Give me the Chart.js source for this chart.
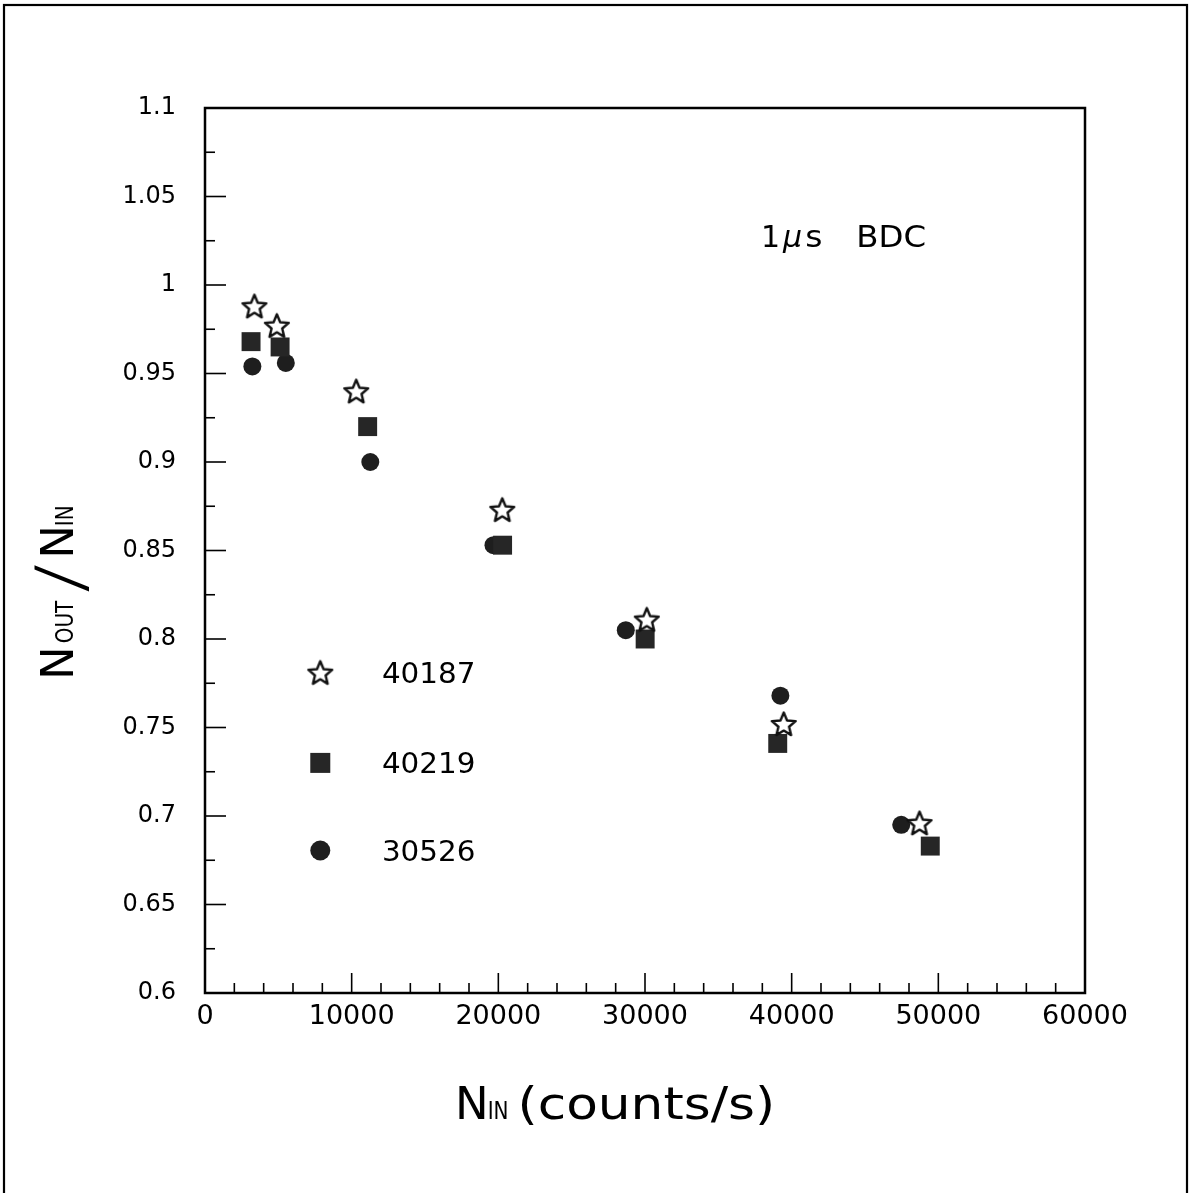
<!DOCTYPE html>
<html><head><meta charset="utf-8">
<script src="https://cdn.jsdelivr.net/npm/chart.js@4/dist/chart.umd.min.js"></script>
<style>html,body{margin:0;padding:0;background:#fff}canvas{display:block}</style>
</head><body>
<canvas id="c" width="1189" height="1193"></canvas>
<script>
// ---- data ----
const seriesNames = ['40187', '40219', '30526'];
const x40187 = [3370, 4900, 10310, 20270, 30120, 39460, 48720];
const y40187 = [0.988, 0.977, 0.940, 0.873, 0.811, 0.752, 0.696];
const x40219 = [3140, 5120, 11090, 20290, 30010, 39050, 49450];
const y40219 = [0.968, 0.965, 0.920, 0.853, 0.800, 0.741, 0.683];
const x30526 = [3230, 5510, 11270, 19670, 28690, 39230, 47470];
const y30526 = [0.954, 0.956, 0.900, 0.853, 0.805, 0.768, 0.695];
const xTickLabels = ['0', '10000', '20000', '30000', '40000', '50000', '60000'];
const yTickLabels = ['0.6', '0.65', '0.7', '0.75', '0.8', '0.85', '0.9', '0.95', '1', '1.05', '1.1'];
const annotationText = ['1', 'μ', 's', 'BDC'];

const FONT = '"DejaVu Sans"';
const THIN = '"DejaVu Sans ExtraLight", "DejaVu Sans Light", "Liberation Sans"';
const toPts = (xs, ys) => xs.map((v, i) => ({x: v, y: ys[i]}));

// open star marker
function makeStar(R, r, lw) {
  const s = Math.ceil(2 * R + lw * 2 + 2);
  const cv = document.createElement('canvas');
  cv.width = s; cv.height = s;
  const g = cv.getContext('2d');
  g.translate(s / 2, s / 2 + 1);
  g.beginPath();
  for (let i = 0; i < 10; i++) {
    const rad = i % 2 === 0 ? R : r;
    const a = -Math.PI / 2 + i * Math.PI / 5;
    const px = rad * Math.cos(a), py = rad * Math.sin(a);
    if (i === 0) g.moveTo(px, py); else g.lineTo(px, py);
  }
  g.closePath();
  g.fillStyle = '#fff'; g.fill();
  g.lineWidth = lw; g.lineJoin = 'round'; g.strokeStyle = '#111'; g.stroke();
  return cv;
}
const starImg = makeStar(12.5, 5.6, 2.4);

function drawRich(ctx, x, y, rot, segs) {
  ctx.save();
  ctx.translate(x, y); ctx.rotate(rot);
  ctx.fillStyle = '#000'; ctx.textBaseline = 'alphabetic'; ctx.textAlign = 'left';
  let cx = 0;
  for (const s of segs) {
    cx += s.gap || 0;
    ctx.font = (s.italic ? 'italic ' : '') + s.size + 'px ' + (s.family || FONT);
    const sx = s.sx || 1, sy = s.sy || 1;
    ctx.save(); ctx.translate(cx, s.dy || 0); ctx.scale(sx, sy); ctx.fillText(s.t, 0, 0); ctx.restore();
    cx += ctx.measureText(s.t).width * sx;
  }
  ctx.restore();
}

const decor = {
  id: 'decor',
  beforeDraw(chart) {
    const ctx = chart.ctx;
    ctx.save();
    ctx.fillStyle = '#fff'; ctx.fillRect(0, 0, chart.width, chart.height);
    ctx.strokeStyle = '#000'; ctx.lineWidth = 2.2;
    ctx.strokeRect(4, 5, 1183, 1210);
    ctx.restore();
  },
  beforeDatasetsDraw(chart) {
    const {ctx, chartArea: a, scales: {x, y}} = chart;
    ctx.save();
    ctx.strokeStyle = '#000'; ctx.lineWidth = 1.6;
    const line = (x1, y1, x2, y2) => { ctx.beginPath(); ctx.moveTo(x1, y1); ctx.lineTo(x2, y2); ctx.stroke(); };
    for (let k = 0; ; k++) {
      const v = x.min + k * 2000; if (v > x.max + 1e-6) break;
      const px = x.getPixelForValue(v);
      line(px, a.bottom, px, a.bottom - (k % 5 === 0 ? 20 : 10));
    }
    for (let k = 0; ; k++) {
      const v = y.min + k * 0.025; if (v > y.max + 1e-6) break;
      const py = y.getPixelForValue(v);
      line(a.left, py, a.left + (k % 2 === 0 ? 21 : 10), py);
    }
    ctx.lineWidth = 2.5;
    ctx.strokeRect(a.left, a.top, a.right - a.left, a.bottom - a.top);
    ctx.restore();
  },
  afterDatasetsDraw(chart) {
    const {ctx, chartArea: a} = chart;
    const W = a.right - a.left, H = a.bottom - a.top;
    // legend
    const lx = a.left + 0.131 * W, tx = a.left + 0.201 * W;
    const rows = [0.638, 0.740, 0.839];
    ctx.save();
    rows.forEach((fy, i) => {
      const cy = a.top + fy * H;
      if (i === 0) ctx.drawImage(starImg, lx - starImg.width / 2, cy - starImg.height / 2);
      else if (i === 1) { ctx.fillStyle = '#262626'; ctx.fillRect(lx - 10, cy - 10, 20, 20); }
      else { ctx.fillStyle = '#1e1e1e'; ctx.beginPath(); ctx.arc(lx, cy, 10, 0, Math.PI * 2); ctx.fill(); }
      drawRich(ctx, tx, cy + 10, 0, [{t: seriesNames[i], size: 28, sx: 1.05}]);
    });
    ctx.restore();
    // annotation 1 µs BDC
    drawRich(ctx, a.left + 556, a.top + 139, 0, [
      {t: annotationText[0], size: 30},
      {t: annotationText[1], size: 30, italic: true, gap: 3},
      {t: annotationText[2], size: 30, sx: 1.1, gap: 3},
      {t: annotationText[3], size: 30, sx: 1.08, gap: 34}
    ]);
    // x title
    drawRich(ctx, a.left + 250, a.bottom + 126, 0, [
      {t: 'N', size: 45},
      {t: 'IN', size: 25, sx: 0.8, gap: -1},
      {t: '(counts/s)', size: 45, sx: 1.15, gap: 9}
    ]);
    // y title
    drawRich(ctx, 73, a.top + 572, -Math.PI / 2, [
      {t: 'N', size: 45},
      {t: 'OUT', size: 25, sx: 0.8, gap: 3},
      {t: '/', size: 66, sx: 1.3, gap: 8, dy: 10, family: THIN},
      {t: 'N', size: 45, gap: 5},
      {t: 'IN', size: 25, sx: 0.8, gap: -1}
    ]);
  }
};

const lblFor = (arr, v) => { const f = arr.find(s => Math.abs(parseFloat(s) - v) < 1e-6); return f === undefined ? '' : f; };

new Chart(document.getElementById('c'), {
  type: 'scatter',
  data: {
    datasets: [
      {label: seriesNames[0], data: toPts(x40187, y40187), pointStyle: starImg},
      {label: seriesNames[1], data: toPts(x40219, y40219), pointStyle: 'rect', pointRadius: 13.4, backgroundColor: '#262626', borderWidth: 0},
      {label: seriesNames[2], data: toPts(x30526, y30526), pointStyle: 'circle', pointRadius: 9, backgroundColor: '#1e1e1e', borderWidth: 0}
    ]
  },
  options: {
    responsive: false, animation: false, events: [],
    layout: {padding: {left: 0, top: 108, right: 104, bottom: 0}},
    plugins: {legend: {display: false}, tooltip: {enabled: false}},
    scales: {
      x: {
        type: 'linear', min: 0, max: 60000,
        grid: {display: false, drawTicks: false}, border: {display: false},
        ticks: {stepSize: 10000, padding: 8, color: '#000', font: {family: FONT, size: 27},
                maxRotation: 0, callback: v => lblFor(xTickLabels, v)},
        afterFit: s => { s.height = 200; }
      },
      y: {
        type: 'linear', min: 0.6, max: 1.1,
        grid: {display: false, drawTicks: false}, border: {display: false},
        ticks: {stepSize: 0.05, padding: 29, color: '#000', font: {family: FONT, size: 24},
                callback: v => lblFor(yTickLabels, v)},
        afterFit: s => { s.width = 205; }
      }
    }
  },
  plugins: [decor]
});
</script>
</body></html>
